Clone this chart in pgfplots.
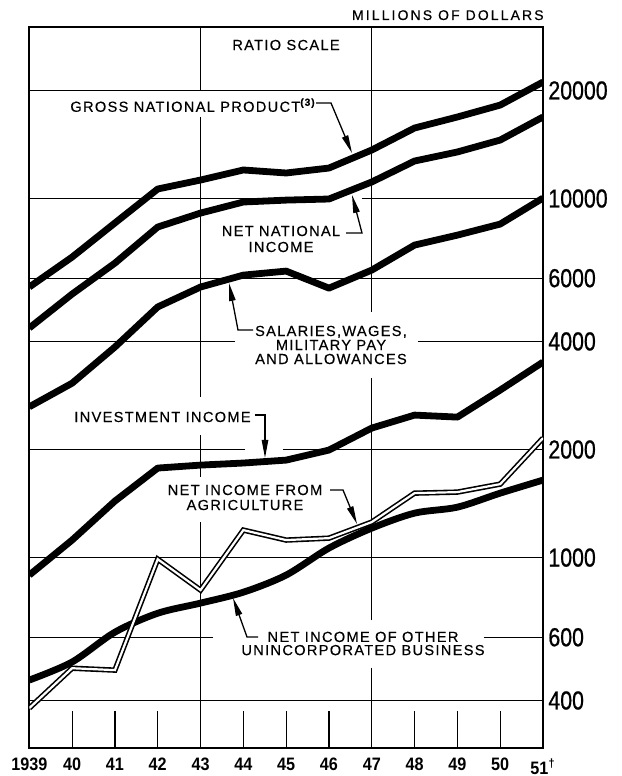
\documentclass[border=0pt]{standalone}
\usepackage{fontspec}
\setmainfont{Liberation Sans}
\newfontfamily\lettering[LetterSpace=9,FakeBold=0.4]{Liberation Sans}
\newfontfamily\letteringwide[LetterSpace=15,FakeBold=0.4]{Liberation Sans}
\newfontfamily\tickfont[FakeStretch=0.82,FakeBold=0.7]{Liberation Sans}
\newfontfamily\yearfont[FakeStretch=0.9]{Liberation Sans}
\usepackage{pgfplots}
\usepackage{pgfplotstable}
\pgfplotsset{compat=1.18}
\usetikzlibrary{arrows.meta}

% millions of dollars
\pgfplotstableread{
year  gnp    nni    sal    inv   agr   oth
1939  5670   4360   2630   894   381   456
1940  6870   5420   3060   1119  492   512
1941  8550   6610   3860   1437  486   620
1942  10630  8330   4990   1776  990   700
1943  11260  9110   5670   1810  812   747
1944  12010  9780   6120   1834  1193  801
1945  11780  9900   6280   1869  1119  894
1946  12160  9970   5630   1993  1133  1063
1947  13650  11120  6320   2295  1256  1208
1948  15720  12720  7420   2494  1512  1330
1949  16870  13480  7910   2462  1522  1382
1950  18210  14550  8490   2928  1602  1512
1951  21110  16870  10030  3504  2152  1644
}\incometable

\newcommand{\lab}{\lettering\fontsize{7.3}{8}\selectfont}
\tikzset{grd/.style={black, line width=0.6pt},
  lead/.style={black, line width=0.65pt, -{Triangle[length=9pt,width=3.2pt]}},
  lbl/.style={inner sep=0pt, align=center}}

\begin{document}
\begin{tikzpicture}
\begin{axis}[scale only axis, width=256.85pt, height=360.25pt,
  xmin=1939, xmax=1951, ymode=log, ymin=295, ymax=29950,
  xtick={1939,1940,...,1951},
  xticklabels={1939,40,41,42,43,44,45,46,47,48,49,50,51\textsuperscript{†}},
  ytick={400,600,1000,2000,4000,6000,10000,20000},
  yticklabels={400,600,1000,2000,4000,6000,10000,20000},
  minor ytick={}, yticklabel pos=right,
  xtick style={draw=none}, ytick style={draw=none},
  axis line style={line width=1pt},
  yticklabel style={font=\tickfont\fontsize{13}{13}\selectfont, anchor=west, inner sep=0pt, xshift=2.5pt},
  xticklabel style={font=\yearfont\bfseries\fontsize{9}{10}\selectfont, anchor=north, inner sep=0pt, yshift=-5pt}]

% grid, broken where the captions sit
\draw[grd] (axis cs:1939,20000) -- (axis cs:1951,20000);
\draw[grd] (axis cs:1939,10000) -- (axis cs:1946,10000);
\draw[grd] (axis cs:1946.77,10000) -- (axis cs:1951,10000);
\draw[grd] (axis cs:1939,6000) -- (axis cs:1951,6000);
\draw[grd] (axis cs:1939,4000) -- (axis cs:1943.8,4000);
\draw[grd] (axis cs:1948.08,4000) -- (axis cs:1951,4000);
\draw[grd] (axis cs:1939,2000) -- (axis cs:1944.04,2000);
\draw[grd] (axis cs:1944.93,2000) -- (axis cs:1951,2000);
\draw[grd] (axis cs:1939,1000) -- (axis cs:1951,1000);
\draw[grd] (axis cs:1939,600) -- (axis cs:1943.29,600);
\draw[grd] (axis cs:1949.62,600) -- (axis cs:1951,600);
\draw[grd] (axis cs:1939,400) -- (axis cs:1951,400);
\draw[grd] (axis cs:1943,29950) -- (axis cs:1943,20000);
\draw[grd] (axis cs:1943,16870) -- (axis cs:1943,2800);
\draw[grd] (axis cs:1943,2194) -- (axis cs:1943,1676);
\draw[grd] (axis cs:1943,1256) -- (axis cs:1943,295);
\draw[grd] (axis cs:1947,29950) -- (axis cs:1947,4830);
\draw[grd] (axis cs:1947,3162) -- (axis cs:1947,670);
\draw[grd] (axis cs:1947,492) -- (axis cs:1947,295);
\pgfplotsinvokeforeach{1940,1941,1942,1944,1945,1946,1948,1949,1950}{
  \draw[grd] (axis cs:#1,295) -- (axis cs:#1,374);
}

\addplot[black, line width=3.4pt, line join=round] table[x=year, y=gnp] {\incometable};
\addplot[black, line width=3.4pt, line join=round] table[x=year, y=nni] {\incometable};
\addplot[black, line width=3.4pt, line join=round] table[x=year, y=sal] {\incometable};
\addplot[black, line width=3.4pt, line join=round] table[x=year, y=inv] {\incometable};
\addplot[black, line width=3.4pt, smooth, tension=0.5] table[x=year, y=oth] {\incometable};
\addplot[black, line width=2.7pt] table[x=year, y=agr] {\incometable};
\addplot[white, line width=1.1pt] table[x=year, y=agr] {\incometable};

\coordinate (P0) at (rel axis cs:-0.05704,1.03817);
\end{axis}

% captions and leaders, in pixels of the reference
\begin{scope}[shift={(P0)}, x=0.5pt, y=-0.5pt]
\path (0,0) rectangle (621,776);
\node[anchor=base east, inner sep=0pt, font=\letteringwide\fontsize{7}{8}\selectfont] at (544,20) {MILLIONS OF DOLLARS};
\node[lbl, font=\lab] at (286,45) {RATIO SCALE};
\node[anchor=base west, inner sep=0pt, font=\lab] at (70,111.8) {GROSS NATIONAL PRODUCT\textsuperscript{\bfseries(3)}};
\draw[lead] (316,103) -- (331,103) -- (352,153);
\node[lbl, font=\lettering\fontsize{7.3}{8}\selectfont] at (281,239) {NET NATIONAL\\INCOME};
\draw[lead] (346,233) -- (362,233) -- (352,195);
\node[lbl, font=\lettering\fontsize{7.3}{7}\selectfont] at (331,345) {SALARIES,WAGES,\\MILITARY PAY\\AND ALLOWANCES};
\draw[lead] (253,330) -- (238,330) -- (229,283);
\node[lbl, font=\lab] at (162.5,417) {INVESTMENT INCOME};
\draw[lead] (255,415) -- (265,415) -- (265,458);
\node[lbl, font=\lettering\fontsize{7.3}{7.5}\selectfont] at (245,497.5) {NET INCOME FROM\\AGRICULTURE};
\draw[lead] (330,490) -- (343,490) -- (357,524);
\node[lbl, font=\lettering\fontsize{7.3}{6.6}\selectfont] at (363,643.5) {NET INCOME OF OTHER\\UNINCORPORATED BUSINESS};
\draw[lead] (258,637) -- (247,637) -- (233,598);
\end{scope}
\end{tikzpicture}
\end{document}
